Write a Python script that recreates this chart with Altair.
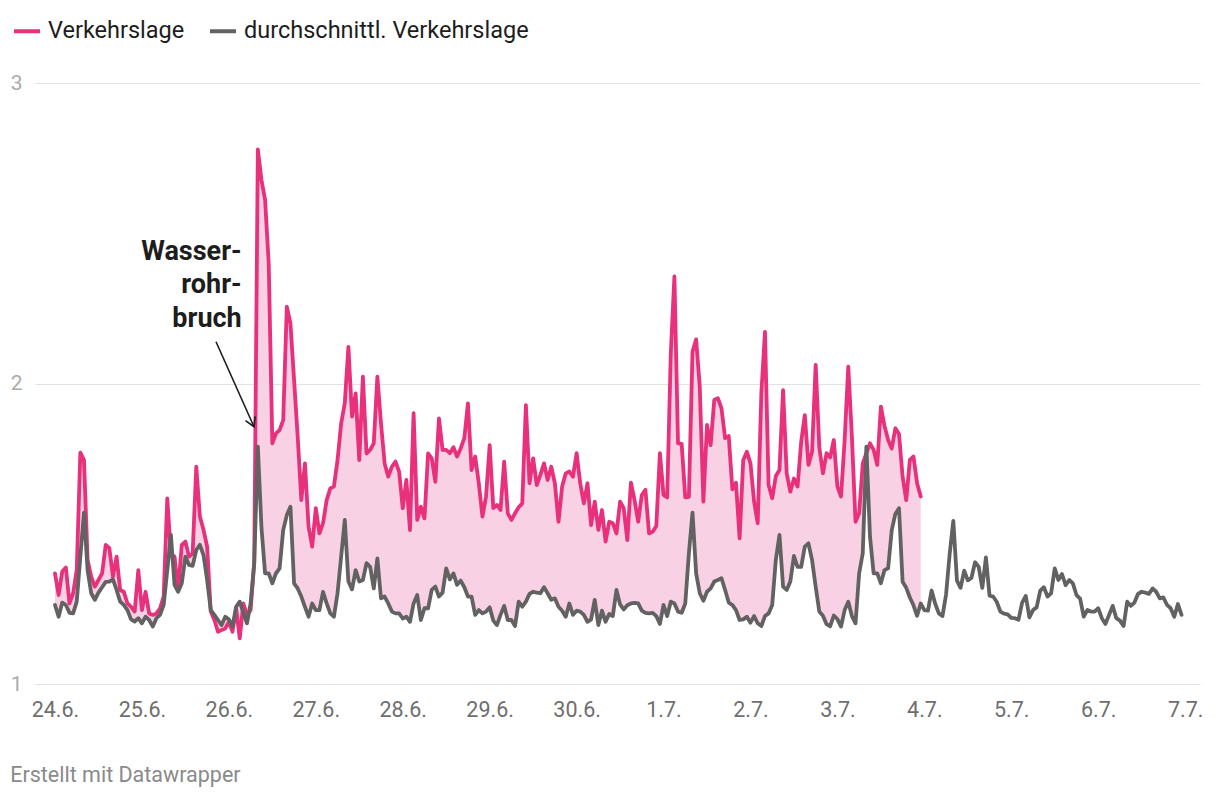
import altair as alt
import pandas as pd

# ---------------- data ----------------
tick_labels = ["24.6.", "25.6.", "26.6.", "27.6.", "28.6.", "29.6.", "30.6.",
               "1.7.", "2.7.", "3.7.", "4.7.", "5.7.", "6.7.", "7.7."]

series_names = ["Verkehrslage", "durchschnittl. Verkehrslage"]

y_ticks = [1, 2, 3]

# hourly values starting 24.6. 00:00
verkehrslage = [
    1.368, 1.296, 1.374, 1.388, 1.268, 1.302, 1.379, 1.770, 1.745, 1.413, 1.357, 1.324,
    1.346, 1.368, 1.463, 1.452, 1.357, 1.424, 1.313, 1.307, 1.268, 1.257, 1.241, 1.379,
    1.246, 1.307, 1.235, 1.230, 1.235, 1.252, 1.291, 1.618, 1.429, 1.424, 1.313, 1.463,
    1.474, 1.424, 1.435, 1.723, 1.557, 1.513, 1.457, 1.241, 1.213, 1.174, 1.180, 1.185,
    1.207, 1.174, 1.252, 1.152, 1.268, 1.230, 1.246, 1.402, 2.779, 2.677, 2.611, 2.400,
    1.801, 1.834, 1.845, 1.878, 2.256, 2.200, 2.012, 1.823, 1.612, 1.734, 1.524, 1.457,
    1.585, 1.501, 1.535, 1.612, 1.651, 1.657, 1.745, 1.867, 1.934, 2.122, 1.890, 1.967,
    1.745, 2.023, 1.767, 1.779, 1.801, 2.023, 1.867, 1.734, 1.690, 1.723, 1.740, 1.707,
    1.585, 1.679, 1.512, 1.901, 1.546, 1.590, 1.551, 1.767, 1.751, 1.673, 1.884, 1.779,
    1.779, 1.768, 1.788, 1.757, 1.784, 1.818, 1.934, 1.712, 1.757, 1.668, 1.557, 1.624,
    1.795, 1.585, 1.596, 1.579, 1.740, 1.568, 1.546, 1.568, 1.588, 1.601, 1.928, 1.668,
    1.751, 1.662, 1.696, 1.734, 1.679, 1.723, 1.668, 1.540, 1.657, 1.701, 1.707, 1.690,
    1.768, 1.668, 1.601, 1.668, 1.529, 1.607, 1.513, 1.579, 1.474, 1.540, 1.535, 1.501,
    1.607, 1.585, 1.479, 1.670, 1.612, 1.540, 1.629, 1.646, 1.501, 1.507, 1.526, 1.768,
    1.629, 1.621, 2.100, 2.356, 1.801, 1.799, 1.621, 1.623, 2.106, 2.147, 1.989, 1.607,
    1.862, 1.795, 1.945, 1.951, 1.917, 1.818, 1.825, 1.648, 1.670, 1.485, 1.745, 1.773,
    1.734, 1.607, 1.535, 1.967, 2.172, 1.662, 1.618, 1.692, 1.712, 1.978, 1.701, 1.640,
    1.684, 1.657, 1.806, 1.895, 1.729, 1.773, 2.062, 1.788, 1.701, 1.768, 1.754, 1.812,
    1.657, 1.624, 1.812, 2.056, 1.823, 1.540, 1.568, 1.734, 1.768, 1.801, 1.779, 1.729,
    1.923, 1.859, 1.812, 1.784, 1.851, 1.832, 1.690, 1.612, 1.746, 1.757, 1.668, 1.624,
]

durchschnitt = [
    1.263, 1.224, 1.271, 1.263, 1.237, 1.235, 1.274, 1.424, 1.570, 1.379, 1.302, 1.280,
    1.304, 1.322, 1.340, 1.341, 1.348, 1.313, 1.274, 1.263, 1.246, 1.215, 1.208, 1.219,
    1.202, 1.224, 1.213, 1.191, 1.219, 1.230, 1.263, 1.379, 1.496, 1.330, 1.307, 1.335,
    1.424, 1.396, 1.393, 1.446, 1.463, 1.429, 1.346, 1.246, 1.230, 1.213, 1.196, 1.224,
    1.215, 1.191, 1.257, 1.274, 1.237, 1.202, 1.268, 1.402, 1.790, 1.520, 1.368, 1.368,
    1.335, 1.368, 1.385, 1.512, 1.562, 1.590, 1.335, 1.318, 1.291, 1.257, 1.224, 1.268,
    1.246, 1.246, 1.307, 1.268, 1.235, 1.224, 1.302, 1.424, 1.546, 1.341, 1.315, 1.379,
    1.341, 1.346, 1.402, 1.390, 1.318, 1.418, 1.285, 1.291, 1.268, 1.241, 1.235, 1.235,
    1.218, 1.224, 1.207, 1.268, 1.296, 1.213, 1.252, 1.252, 1.313, 1.324, 1.291, 1.304,
    1.385, 1.348, 1.368, 1.330, 1.344, 1.322, 1.291, 1.291, 1.230, 1.246, 1.235, 1.241,
    1.255, 1.211, 1.196, 1.230, 1.260, 1.213, 1.213, 1.193, 1.274, 1.257, 1.274, 1.300,
    1.307, 1.304, 1.302, 1.322, 1.302, 1.280, 1.285, 1.257, 1.244, 1.224, 1.268, 1.230,
    1.244, 1.241, 1.230, 1.207, 1.215, 1.280, 1.196, 1.244, 1.207, 1.233, 1.226, 1.313,
    1.265, 1.248, 1.262, 1.268, 1.270, 1.268, 1.244, 1.237, 1.235, 1.237, 1.226, 1.200,
    1.263, 1.226, 1.274, 1.268, 1.241, 1.237, 1.268, 1.435, 1.570, 1.368, 1.302, 1.277,
    1.307, 1.318, 1.341, 1.346, 1.352, 1.313, 1.271, 1.263, 1.246, 1.213, 1.215, 1.224,
    1.204, 1.226, 1.202, 1.193, 1.226, 1.235, 1.263, 1.413, 1.496, 1.324, 1.313, 1.341,
    1.426, 1.390, 1.390, 1.457, 1.468, 1.413, 1.324, 1.241, 1.227, 1.199, 1.192, 1.228,
    1.216, 1.191, 1.246, 1.274, 1.226, 1.202, 1.368, 1.435, 1.790, 1.490, 1.368, 1.368,
    1.335, 1.379, 1.385, 1.512, 1.566, 1.585, 1.340, 1.320, 1.288, 1.262, 1.227, 1.268,
    1.246, 1.244, 1.311, 1.267, 1.235, 1.226, 1.298, 1.434, 1.543, 1.344, 1.320, 1.377,
    1.345, 1.353, 1.405, 1.390, 1.320, 1.421, 1.294, 1.291, 1.273, 1.241, 1.234, 1.232,
    1.220, 1.219, 1.214, 1.271, 1.293, 1.222, 1.246, 1.255, 1.311, 1.322, 1.291, 1.302,
    1.385, 1.346, 1.366, 1.329, 1.346, 1.335, 1.296, 1.284, 1.224, 1.246, 1.241, 1.241,
    1.252, 1.219, 1.200, 1.230, 1.260, 1.219, 1.211, 1.193, 1.274, 1.260, 1.271, 1.300,
    1.307, 1.304, 1.300, 1.318, 1.307, 1.285, 1.288, 1.263, 1.252, 1.224, 1.266, 1.230,
]

annotation_lines = ["Wasser-", "rohr-", "bruch"]
annotation_h = [51.55]     # right end of the text block (hours)
annotation_v = [2.411]     # baseline of first line
arrow_h = [44.45]
arrow_v = [2.139]
arrow_h2 = [54.94]
arrow_v2 = [1.856]

PINK = "#e8307b"
GRAY = "#626262"
FILL = "#f8d1e5"
FONT = "Roboto"

# ---------------- tables ----------------
rows = []
for h, v in enumerate(verkehrslage):
    rows.append({"h": h, "v": v, "s": series_names[0]})
for h, v in enumerate(durchschnitt):
    rows.append({"h": h, "v": v, "s": series_names[1]})
lines_df = pd.DataFrame(rows)

n = len(verkehrslage)
band_df = pd.DataFrame({"h": list(range(n)), "v": verkehrslage, "base": durchschnitt[:n]})
note_df = pd.DataFrame({"h": annotation_h, "v": annotation_v})
arrow_df = pd.DataFrame({"h": arrow_h, "v": arrow_v, "h2": arrow_h2, "v2": arrow_v2})
head_df = pd.DataFrame({"h": arrow_h2, "v": arrow_v2})

# ---------------- scales / axes ----------------
xscale = alt.Scale(domain=[-5.52, 316.1], nice=False, zero=False)
yscale = alt.Scale(domain=[1, 3], nice=False, zero=False)

label_expr = "[" + ",".join("'%s'" % t for t in tick_labels) + "][round(datum.value/24)]"

xaxis = alt.Axis(values=[24 * i for i in range(len(tick_labels))], labelExpr=label_expr,
                 grid=False, domain=False, ticks=False, labelFontSize=21.5, labelFont=FONT,
                 labelColor="#6e6e6e", labelPadding=15, title=None, labelFlush=False,
                 labelOverlap=False)
yaxis = alt.Axis(values=y_ticks, labelExpr="format(datum.value, 'd')", grid=True,
                 gridColor="#e2e2e2", gridWidth=1.2, domain=False, ticks=False,
                 labelFontSize=21, labelFont=FONT, labelColor="#ababab", labelPadding=13,
                 title=None, labelOverlap=False)

X = alt.X("h:Q", scale=xscale, axis=xaxis)
Y = alt.Y("v:Q", scale=yscale, axis=yaxis)

area = alt.Chart(band_df).mark_area(color=FILL, opacity=1).encode(
    x=X, y=Y, y2="base:Q",
)

lines = alt.Chart(lines_df).mark_line(strokeWidth=3.8, strokeJoin="round", strokeCap="round").encode(
    x=X, y=Y,
    color=alt.Color(
        "s:N",
        scale=alt.Scale(domain=series_names, range=[PINK, GRAY]),
        legend=alt.Legend(
            orient="none", legendX=-23, legendY=-67, direction="horizontal",
            symbolType="stroke", symbolStrokeWidth=4, symbolSize=676,
            labelFontSize=23.5, labelFont=FONT, labelColor="#1d1d1d", labelLimit=600,
            labelOffset=6, columnPadding=17, padding=0, title=None,
        ),
    ),
)

note = alt.Chart(note_df).mark_text(
    text=annotation_lines, align="right", baseline="alphabetic", font=FONT,
    fontSize=27, fontWeight="bold", color="#1d1d1d", lineHeight=33.5,
).encode(x=X, y=Y)

arrow_line = alt.Chart(arrow_df).mark_rule(color="#1d1d1d", strokeWidth=1.6).encode(
    x=X, y=Y, x2="h2:Q", y2="v2:Q",
)

arrow_head = alt.Chart(head_df).mark_point(
    shape="M-0.5,0.866L0,0L0.5,0.866", filled=False, size=440, angle=156,
    stroke="#1d1d1d", strokeWidth=1.6, opacity=1,
).encode(x=X, y=Y)

chart = alt.layer(area, lines, note, arrow_line, arrow_head).properties(
    width=1165,
    height=601,
    autosize=alt.AutoSizeParams(type="none"),
    padding={"left": 27, "top": 75, "right": 8, "bottom": 108},
    background="white",
    title=alt.TitleParams(
        "Erstellt mit Datawrapper", orient="bottom", anchor="start", font=FONT,
        fontSize=21.5, fontWeight="normal", color="#8a8a8a", dx=0, offset=44,
    ),
).configure_view(stroke=None)

chart.save("out.html", embed_options={"renderer": "svg", "actions": False})
